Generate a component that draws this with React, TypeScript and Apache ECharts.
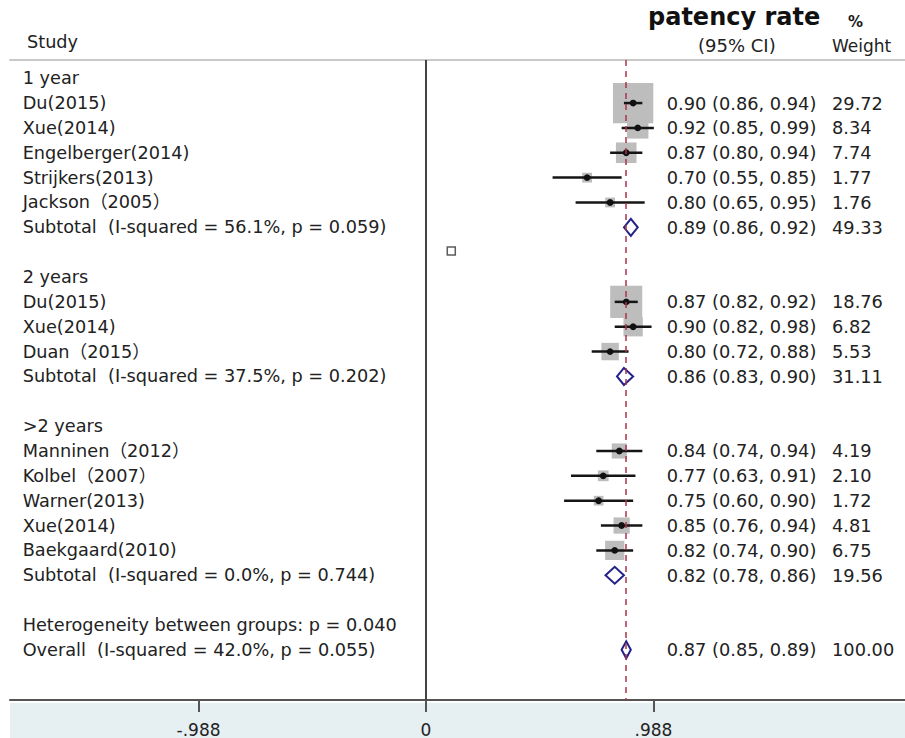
import React, { useEffect, useRef } from "react";
import * as echarts from "echarts";

// ---- data (one entry per row of the forest plot, top to bottom) ----
const rowLabels: string[] = [
  "1 year",
  "Du(2015)",
  "Xue(2014)",
  "Engelberger(2014)",
  "Strijkers(2013)",
  "Jackson（2005）",
  "Subtotal  (I-squared = 56.1%, p = 0.059)",
  "",
  "2 years",
  "Du(2015)",
  "Xue(2014)",
  "Duan（2015）",
  "Subtotal  (I-squared = 37.5%, p = 0.202)",
  "",
  ">2 years",
  "Manninen（2012）",
  "Kolbel（2007）",
  "Warner(2013)",
  "Xue(2014)",
  "Baekgaard(2010)",
  "Subtotal  (I-squared = 0.0%, p = 0.744)",
  "",
  "Heterogeneity between groups: p = 0.040",
  "Overall  (I-squared = 42.0%, p = 0.055)",
];
const rowEst: (number | null)[] = [
  null, 0.90, 0.92, 0.87, 0.70, 0.80, 0.89, null,
  null, 0.87, 0.90, 0.80, 0.86, null,
  null, 0.84, 0.77, 0.75, 0.85, 0.82, 0.82, null,
  null, 0.87,
];
const rowLo: (number | null)[] = [
  null, 0.86, 0.85, 0.80, 0.55, 0.65, 0.86, null,
  null, 0.82, 0.82, 0.72, 0.83, null,
  null, 0.74, 0.63, 0.60, 0.76, 0.74, 0.78, null,
  null, 0.85,
];
const rowHi: (number | null)[] = [
  null, 0.94, 0.99, 0.94, 0.85, 0.95, 0.92, null,
  null, 0.92, 0.98, 0.88, 0.90, null,
  null, 0.94, 0.91, 0.90, 0.94, 0.90, 0.86, null,
  null, 0.89,
];
const rowWeight: (number | null)[] = [
  null, 29.72, 8.34, 7.74, 1.77, 1.76, 49.33, null,
  null, 18.76, 6.82, 5.53, 31.11, null,
  null, 4.19, 2.10, 1.72, 4.81, 6.75, 19.56, null,
  null, 100.0,
];
const rowPooled: boolean[] = rowLabels.map((l) => l.startsWith("Subtotal") || l.startsWith("Overall"));
const overallEstimate = 0.87;
const tickValues = [-0.988, 0, 0.988];
const tickLabels = ["-.988", "0", ".988"];
const strayMarker: [number, number][] = [[0.11, 6.95]];

// ---- layout constants ----
const FONT = "'DejaVu Sans', 'Noto Sans CJK SC', sans-serif";
const X_MIN = -1.807;
const X_MAX = 2.081;
const Y_MIN = -0.733;
const Y_MAX = 25.02;
const LABEL_X = -1.752;
const CI_X = 1.046;
const WT_X = 1.764;
const TEXT_SIZE = 17.8;
const TEXT_COLOR = "#222";

const fmt = (v: number) => v.toFixed(2);

export default function App() {
  const ref = useRef<HTMLDivElement>(null);
  useEffect(() => {
    if (!ref.current) return;
    const chart = echarts.init(ref.current, undefined, { renderer: "svg" });

    const labelData = rowLabels.map((_, i) => [LABEL_X, i]);
    const markData: any[] = [];
    rowEst.forEach((e, i) => {
      if (e === null) return;
      markData.push([e, i, rowLo[i], rowHi[i], rowWeight[i], rowPooled[i] ? 1 : 0]);
    });

    const option: any = {
      animation: false,
      backgroundColor: "#ffffff",
      grid: { left: 10, right: 0, top: 60, bottom: 35, containLabel: false },
      xAxis: [
        {
          type: "value",
          position: "bottom",
          min: X_MIN,
          max: X_MAX,
          splitLine: { show: false },
          axisLine: { show: true, onZero: false, lineStyle: { color: "#555", width: 2 } },
          axisTick: {
            show: true,
            customValues: tickValues,
            length: 12,
            lineStyle: { color: "#555", width: 2 },
          },
          axisLabel: {
            show: true,
            customValues: tickValues,
            margin: 21,
            fontSize: 17,
            fontFamily: FONT,
            color: TEXT_COLOR,
            formatter: (v: number) => {
              const idx = tickValues.findIndex((t) => Math.abs(t - v) < 1e-6);
              return idx >= 0 ? tickLabels[idx] : "";
            },
          },
          z: 3,
        },
        {
          type: "value",
          position: "top",
          min: X_MIN,
          max: X_MAX,
          splitLine: { show: false },
          axisLine: { show: true, onZero: false, lineStyle: { color: "#c9c9c9", width: 2 } },
          axisTick: { show: false },
          axisLabel: { show: false },
        },
      ],
      yAxis: {
        type: "value",
        inverse: true,
        min: Y_MIN,
        max: Y_MAX,
        show: false,
      },
      graphic: [
        {
          type: "rect",
          z: -1,
          silent: true,
          shape: { x: 10, y: 703, width: 895, height: 35 },
          style: { fill: "#e6eff2" },
        },
        {
          type: "text",
          left: 27,
          top: 33,
          style: { text: "Study", font: `17.7px ${FONT}`, fill: TEXT_COLOR },
        },
        {
          type: "text",
          left: 648,
          top: 5,
          style: { text: "patency rate", font: `bold 24px ${FONT}`, fill: "#111" },
        },
        {
          type: "text",
          left: 848,
          top: 14,
          style: { text: "%", font: `bold 15px ${FONT}`, fill: "#1a1a1a" },
        },
        {
          type: "text",
          left: 698,
          top: 36,
          style: { text: "(95% CI)", font: `18px ${FONT}`, fill: TEXT_COLOR },
        },
        {
          type: "text",
          left: 832,
          top: 37,
          style: { text: "Weight", font: `17px ${FONT}`, fill: TEXT_COLOR },
        },
      ],
      series: [
        {
          type: "custom",
          name: "lines",
          z: 1,
          data: [[0, 0]],
          renderItem: () => ({ type: "group", children: [] }),
          markLine: {
            silent: true,
            symbol: ["none", "none"],
            label: { show: false },
            data: [
              { xAxis: 0, lineStyle: { color: "#444", width: 2, type: "solid" } },
              { xAxis: overallEstimate, lineStyle: { color: "#a8364a", width: 1.5, type: [6, 5] } },
            ],
          },
        },
        {
          type: "custom",
          name: "forest",
          z: 2,
          data: markData,
          encode: { x: 0, y: 1 },
          renderItem: (params: any, api: any) => {
            const est = api.value(0);
            const row = api.value(1);
            const lo = api.value(2);
            const hi = api.value(3);
            const w = api.value(4);
            const pooled = api.value(5);
            const c = api.coord([est, row]);
            const l = api.coord([lo, row]);
            const h = api.coord([hi, row]);
            if (pooled) {
              const hh = 8.5;
              return {
                type: "polygon",
                shape: {
                  points: [
                    [l[0], c[1]],
                    [c[0], c[1] - hh],
                    [h[0], c[1]],
                    [c[0], c[1] + hh],
                  ],
                },
                style: { fill: "#ffffff", stroke: "#22228a", lineWidth: 2 },
              };
            }
            const side = 7.4 * Math.sqrt(w);
            return {
              type: "group",
              children: [
                {
                  type: "rect",
                  shape: { x: c[0] - side / 2, y: c[1] - side / 2, width: side, height: side },
                  style: { fill: "#bdbdbd" },
                },
                {
                  type: "line",
                  shape: { x1: l[0], y1: c[1], x2: h[0], y2: c[1] },
                  style: { stroke: "#151515", lineWidth: 2.5 },
                },
                {
                  type: "circle",
                  shape: { cx: c[0], cy: c[1], r: 3.4 },
                  style: { fill: "#111" },
                },
              ],
            };
          },
        },
        {
          type: "custom",
          name: "ciText",
          z: 3,
          data: markData,
          encode: { x: 0, y: 1 },
          renderItem: (params: any, api: any) => {
            const est = api.value(0);
            const row = api.value(1);
            const lo = api.value(2);
            const hi = api.value(3);
            const w = api.value(4);
            const p1 = api.coord([CI_X, row]);
            const p2 = api.coord([WT_X, row]);
            return {
              type: "group",
              children: [
                {
                  type: "text",
                  style: {
                    text: `${fmt(est)} (${fmt(lo)}, ${fmt(hi)})`,
                    x: p1[0],
                    y: p1[1],
                    align: "left",
                    verticalAlign: "middle",
                    font: `${TEXT_SIZE}px ${FONT}`,
                    fill: TEXT_COLOR,
                  },
                },
                {
                  type: "text",
                  style: {
                    text: w.toFixed(2),
                    x: p2[0],
                    y: p2[1],
                    align: "left",
                    verticalAlign: "middle",
                    font: `${TEXT_SIZE}px ${FONT}`,
                    fill: TEXT_COLOR,
                  },
                },
              ],
            };
          },
        },
        {
          type: "custom",
          name: "studyLabels",
          z: 3,
          data: labelData,
          encode: { x: 0, y: 1 },
          renderItem: (params: any, api: any) => {
            const row = api.value(1);
            const p = api.coord([api.value(0), row]);
            return {
              type: "text",
              style: {
                text: rowLabels[params.dataIndex],
                x: p[0],
                y: p[1],
                align: "left",
                verticalAlign: "middle",
                font: `17.7px ${FONT}`,
                fill: TEXT_COLOR,
              },
            };
          },
        },
        {
          type: "scatter",
          name: "stray",
          z: 3,
          data: strayMarker,
          symbol: "rect",
          symbolSize: 8,
          itemStyle: { color: "#fff", borderColor: "#333", borderWidth: 1.5 },
          silent: true,
        },
      ],
    };
    chart.setOption(option);
    return () => chart.dispose();
  }, []);
  return (
    <div
      ref={ref}
      style={{ position: "fixed", left: 0, top: 0, width: 905, height: 738 }}
    />
  );
}
